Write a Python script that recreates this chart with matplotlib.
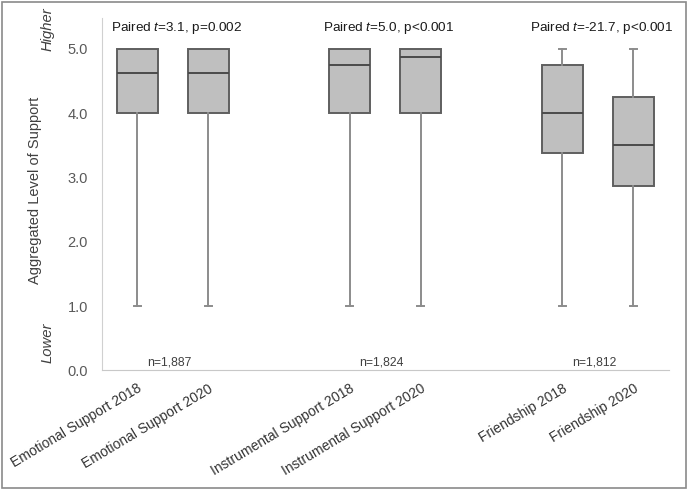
import matplotlib
matplotlib.use("Agg")
import matplotlib.pyplot as plt
from matplotlib.patches import Rectangle

# data
labels = ["Emotional Support 2018", "Emotional Support 2020",
          "Instrumental Support 2018", "Instrumental Support 2020",
          "Friendship 2018", "Friendship 2020"]
whislo = [1.0, 1.0, 1.0, 1.0, 1.0, 1.0]
q1 = [4.0, 4.0, 4.0, 4.0, 3.375, 2.875]
med = [4.625, 4.625, 4.75, 4.875, 4.0, 3.5]
q3 = [5.0, 5.0, 5.0, 5.0, 4.75, 4.25]
whishi = [5.0, 5.0, 5.0, 5.0, 5.0, 5.0]
tests = ["Paired $\\it{t}$=3.1, p=0.002",
         "Paired $\\it{t}$=5.0, p<0.001",
         "Paired $\\it{t}$=-21.7, p<0.001"]
ns = ["n=1,887", "n=1,824", "n=1,812"]
positions = [0, 1, 3, 4, 6, 7]

font = "Liberation Sans"
plt.rcParams["font.family"] = [font, "DejaVu Sans"]
plt.rcParams["mathtext.fontset"] = "custom"
plt.rcParams["mathtext.it"] = font + ":italic"
plt.rcParams["mathtext.rm"] = font

fig = plt.figure(figsize=(6.88, 4.90), dpi=100)
ax = fig.add_axes([0.148, 0.244, 0.824, 0.719])

stats = []
for i in range(len(labels)):
    stats.append({"whislo": whislo[i], "q1": q1[i], "med": med[i],
                  "q3": q3[i], "whishi": whishi[i], "fliers": [],
                  "label": labels[i]})

bp = ax.bxp(stats, positions=positions, widths=0.58, capwidths=0.1,
            patch_artist=True, showfliers=False,
            boxprops=dict(facecolor="#bfbfbf", edgecolor="#5f5f5f", linewidth=1.4),
            medianprops=dict(color="#4a4a4a", linewidth=1.4),
            whiskerprops=dict(color="#8c8c8c", linewidth=1.4),
            capprops=dict(color="#8c8c8c", linewidth=1.4))

# no upper whisker when the box already reaches the max
for i in range(len(labels)):
    if whishi[i] <= q3[i]:
        bp["caps"][2 * i + 1].set_visible(False)
        bp["whiskers"][2 * i + 1].set_visible(False)

ax.set_xlim(-0.5, 7.5)
ax.set_ylim(0, 5.48)
ax.set_yticks([0, 1, 2, 3, 4, 5])
ax.set_yticklabels(["0.0", "1.0", "2.0", "3.0", "4.0", "5.0"])
ax.tick_params(axis="y", length=0, pad=10, labelsize=10.5, labelcolor="#595959")
ax.tick_params(axis="x", length=0, pad=8, labelsize=10, labelcolor="#333333")
ax.set_xticks(positions)
ax.set_xticklabels(labels, rotation=31, ha="right", rotation_mode="anchor")

for s in ["top", "right"]:
    ax.spines[s].set_visible(False)
ax.spines["left"].set_color("#d0d0d0")
ax.spines["bottom"].set_color("#c8c8c8")

ax.set_ylabel("Aggregated Level of Support", fontsize=10.5, color="#404040")
ax.yaxis.set_label_coords(-0.105, 0.51)
ax.text(-0.095, 5.31, "Higher", transform=ax.get_yaxis_transform(), rotation=90,
        ha="center", va="center", fontsize=10.7, style="italic", color="#404040")
ax.text(-0.095, 0.43, "Lower", transform=ax.get_yaxis_transform(), rotation=90,
        ha="center", va="center", fontsize=10.7, style="italic", color="#404040")

for k in range(3):
    xc = (positions[2 * k] + positions[2 * k + 1]) / 2
    ax.text(xc + 0.05, 5.33, tests[k], ha="center", va="center", fontsize=9.7, color="#1a1a1a")
    ax.text(xc - 0.05, 0.13, ns[k], ha="center", va="center", fontsize=8.8, color="#404040")

fig.patches.append(Rectangle((0.003, 0.004), 0.994, 0.992, transform=fig.transFigure,
                             fill=False, edgecolor="#8a8a8a", linewidth=1.2))

fig.savefig("out.png", dpi=100)
